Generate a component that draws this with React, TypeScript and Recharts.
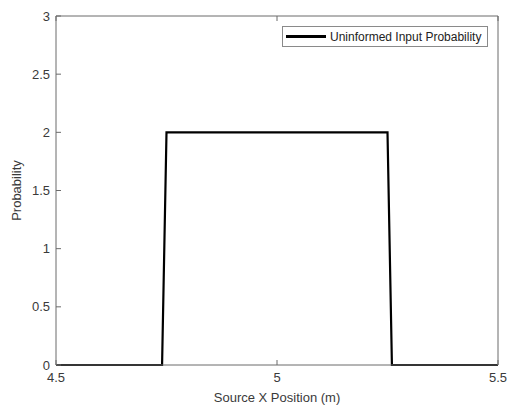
import { LineChart, Line, XAxis, YAxis } from 'recharts'

const xPositions = [4.5, 4.74, 4.75, 5.25, 5.26, 5.5]
const probability = [0, 0, 2, 2, 0, 0]
const xTicks = [4.5, 5, 5.5]
const yTicks = [0, 0.5, 1, 1.5, 2, 2.5, 3]

const data = xPositions.map((x, i) => ({ x, p: probability[i] }))

const axisColor = '#6b6b6b'
const textColor = '#3a3a3a'
const font = '"Liberation Sans", Arial, sans-serif'

function LegendBox() {
  return (
    <div
      style={{
        position: 'absolute',
        top: 26,
        left: 282,
        border: '1px solid #8a8a8a',
        background: '#fff',
        display: 'flex',
        alignItems: 'center',
        height: 19,
        width: 204,
        fontFamily: font,
        fontSize: 12,
        color: '#222',
        whiteSpace: 'nowrap',
      }}
    >
      <div style={{ width: 40, height: 3, background: '#000', marginLeft: 3, marginRight: 4 }} />
      <span>Uninformed Input Probability</span>
    </div>
  )
}

export default function App() {
  return (
    <div style={{ position: 'fixed', top: 0, left: 0, width: 509, height: 408, background: '#fff' }}>
      <LineChart width={509} height={408} data={data} margin={{ top: 15, right: 10, bottom: 0, left: 0 }}>
        <XAxis
          dataKey="x"
          type="number"
          domain={[4.5, 5.5]}
          ticks={xTicks}
          stroke={axisColor}
          tickSize={-5}
          tickMargin={13}
          height={43}
          tick={{ fill: textColor, fontSize: 13, fontFamily: font }}
          label={{ value: 'Source X Position (m)', position: 'insideBottom', offset: 6, fill: textColor, fontSize: 13, fontFamily: font }}
        />
        <XAxis
          xAxisId="top"
          dataKey="x"
          type="number"
          orientation="top"
          domain={[4.5, 5.5]}
          ticks={xTicks}
          stroke={axisColor}
          tickSize={-5}
          height={1}
          tickFormatter={() => ''}
        />
        <YAxis
          type="number"
          domain={[0, 3]}
          ticks={yTicks}
          stroke={axisColor}
          tickSize={-5}
          tickMargin={11}
          width={56}
          tick={{ fill: textColor, fontSize: 13, fontFamily: font }}
          label={{ value: 'Probability', angle: -90, position: 'insideLeft', offset: 16, fill: textColor, fontSize: 13, fontFamily: font, style: { textAnchor: 'middle' } }}
        />
        <YAxis
          yAxisId="right"
          orientation="right"
          type="number"
          domain={[0, 3]}
          ticks={yTicks}
          stroke={axisColor}
          tickSize={-5}
          width={1}
          tickFormatter={() => ''}
        />
        <Line
          dataKey="p"
          type="linear"
          stroke="#000"
          strokeWidth={2.2}
          dot={false}
          isAnimationActive={false}
        />
      </LineChart>
      <LegendBox />
    </div>
  )
}
